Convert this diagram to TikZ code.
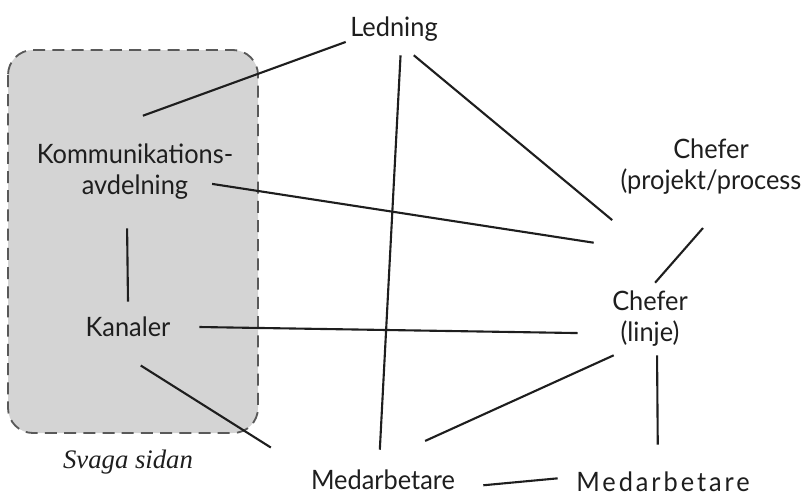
\documentclass[tikz,border=0pt]{standalone}
\usepackage{graphicx}
\usepackage{fontspec}
\setmainfont{Lato}[FakeStretch=0.95]
\newfontfamily\italfont{Liberation Serif}
\usepackage{tikz}
\definecolor{boxgray}{HTML}{D4D4D4}
\definecolor{ink}{HTML}{1E1E1E}

\begin{document}
\begin{tikzpicture}[x=0.025cm,y=-0.025cm,every text node part/.style={align=center},
		lbl/.style={inner sep=0pt,text=ink,font=\fontsize{19}{22}\selectfont},
		link/.style={line width=1.5pt,draw=ink}]
		\useasboundingbox (0,0) rectangle (802,496);
		%weak side
		\filldraw[fill=boxgray,draw=black!65,line width=1.3pt,dash pattern=on 0.3cm off 0.18cm,rounded corners=0.625cm] (8,50) rectangle (258,433);
		\node[lbl,font=\italfont\itshape\fontsize{19}{22}\selectfont] (svag) at (128,462) {Svaga sidan};
		
		%actors
		\node[lbl,minimum width=2.4cm,minimum height=1.3cm] (led) at (394,29) {Ledning};
		\node[lbl,minimum height=2.8cm] (komm) at (135,172) {Kommunikations-\\avdelning};
		\node[lbl,minimum width=3.55cm,minimum height=1.25cm] (kan) at (128,327) {Kanaler};
		\node[lbl,minimum height=1.65cm] (chp) at (711,167) {Chefer\\(projekt/process};
		\node[lbl,minimum width=3.6cm,minimum height=1.8cm] (cl) at (650,319) {Chefer\\(linje)};
		\node[lbl,minimum width=5cm,minimum height=1.5cm] (med) at (383,480) {Medarbetare};
		\node[lbl,minimum width=5.25cm,minimum height=1.85cm] (med2) at (663,482) {\addfontfeatures{LetterSpace=11}Medarbetare};
		
		%links
		\draw[link] (led.195) -- (komm.82);
		\draw[link] (led.284) -- (med.96);
		\draw[link,shorten >=2.45cm] (led.307) -- (cl.44);
		\draw[link,shorten <=1.95cm] (komm.center) -- ([xshift=0.4cm,yshift=1cm]cl.north west);
		\draw[link] (komm.262) -- (kan.north);
		\draw[link] (kan.east) -- (cl.191);
		\draw[link,shorten <=0.62cm,shorten >=0.35cm] (kan.252) -- (med.166);
		\draw[link,shorten <=0.92cm] (chp.296) -- (cl.82);
		\draw[link,shorten >=0.53cm] (cl.225) -- (med.53);
		\draw[link] (cl.281) -- (med2.98);
		\draw[link] (med.357) -- (med2.178);
		
\end{tikzpicture}
\end{document}
